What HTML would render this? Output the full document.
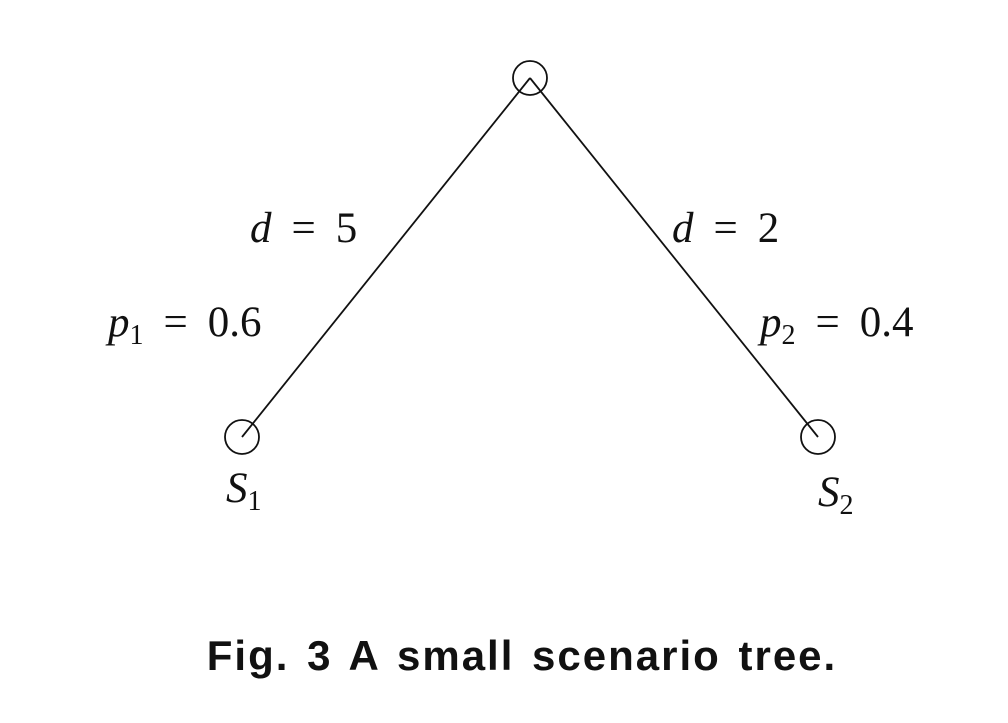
<!DOCTYPE html>
<html><head><meta charset="utf-8"><style>
html,body{margin:0;padding:0;background:#fff;width:1008px;height:723px;overflow:hidden}
svg{display:block}
.m{font-family:"Liberation Serif",serif;font-size:43px;fill:#111}
.cap{font-family:"Liberation Sans",sans-serif;font-weight:bold;font-size:42px;fill:#111;letter-spacing:2px;word-spacing:4px}
</style></head><body>
<svg width="1008" height="723" viewBox="0 0 1008 723">
<g stroke="#111" stroke-width="1.8" fill="none">
<line x1="530" y1="78" x2="242" y2="437"/>
<line x1="530" y1="78" x2="818" y2="437"/>
<circle cx="530" cy="78" r="17" fill="none"/>
<circle cx="242" cy="437" r="17" fill="none"/>
<circle cx="818" cy="437" r="17" fill="none"/>
</g>
<text class="m" x="250" y="242"><tspan font-style="italic">d</tspan><tspan dx="20">=</tspan><tspan dx="20">5</tspan></text>
<text class="m" x="108" y="336"><tspan font-style="italic">p</tspan><tspan font-size="28" dy="8">1</tspan><tspan dy="-8" dx="20">=</tspan><tspan dx="20">0.6</tspan></text>
<text class="m" x="672" y="242"><tspan font-style="italic">d</tspan><tspan dx="20">=</tspan><tspan dx="20">2</tspan></text>
<text class="m" x="760" y="336"><tspan font-style="italic">p</tspan><tspan font-size="28" dy="8">2</tspan><tspan dy="-8" dx="20">=</tspan><tspan dx="20">0.4</tspan></text>
<text class="m" x="226" y="502"><tspan font-style="italic">S</tspan><tspan font-size="28" dy="8">1</tspan></text>
<text class="m" x="818" y="506"><tspan font-style="italic">S</tspan><tspan font-size="28" dy="8">2</tspan></text>
<text class="cap" x="522" y="670" text-anchor="middle">Fig. 3   A small scenario tree.</text>
</svg>
</body></html>
